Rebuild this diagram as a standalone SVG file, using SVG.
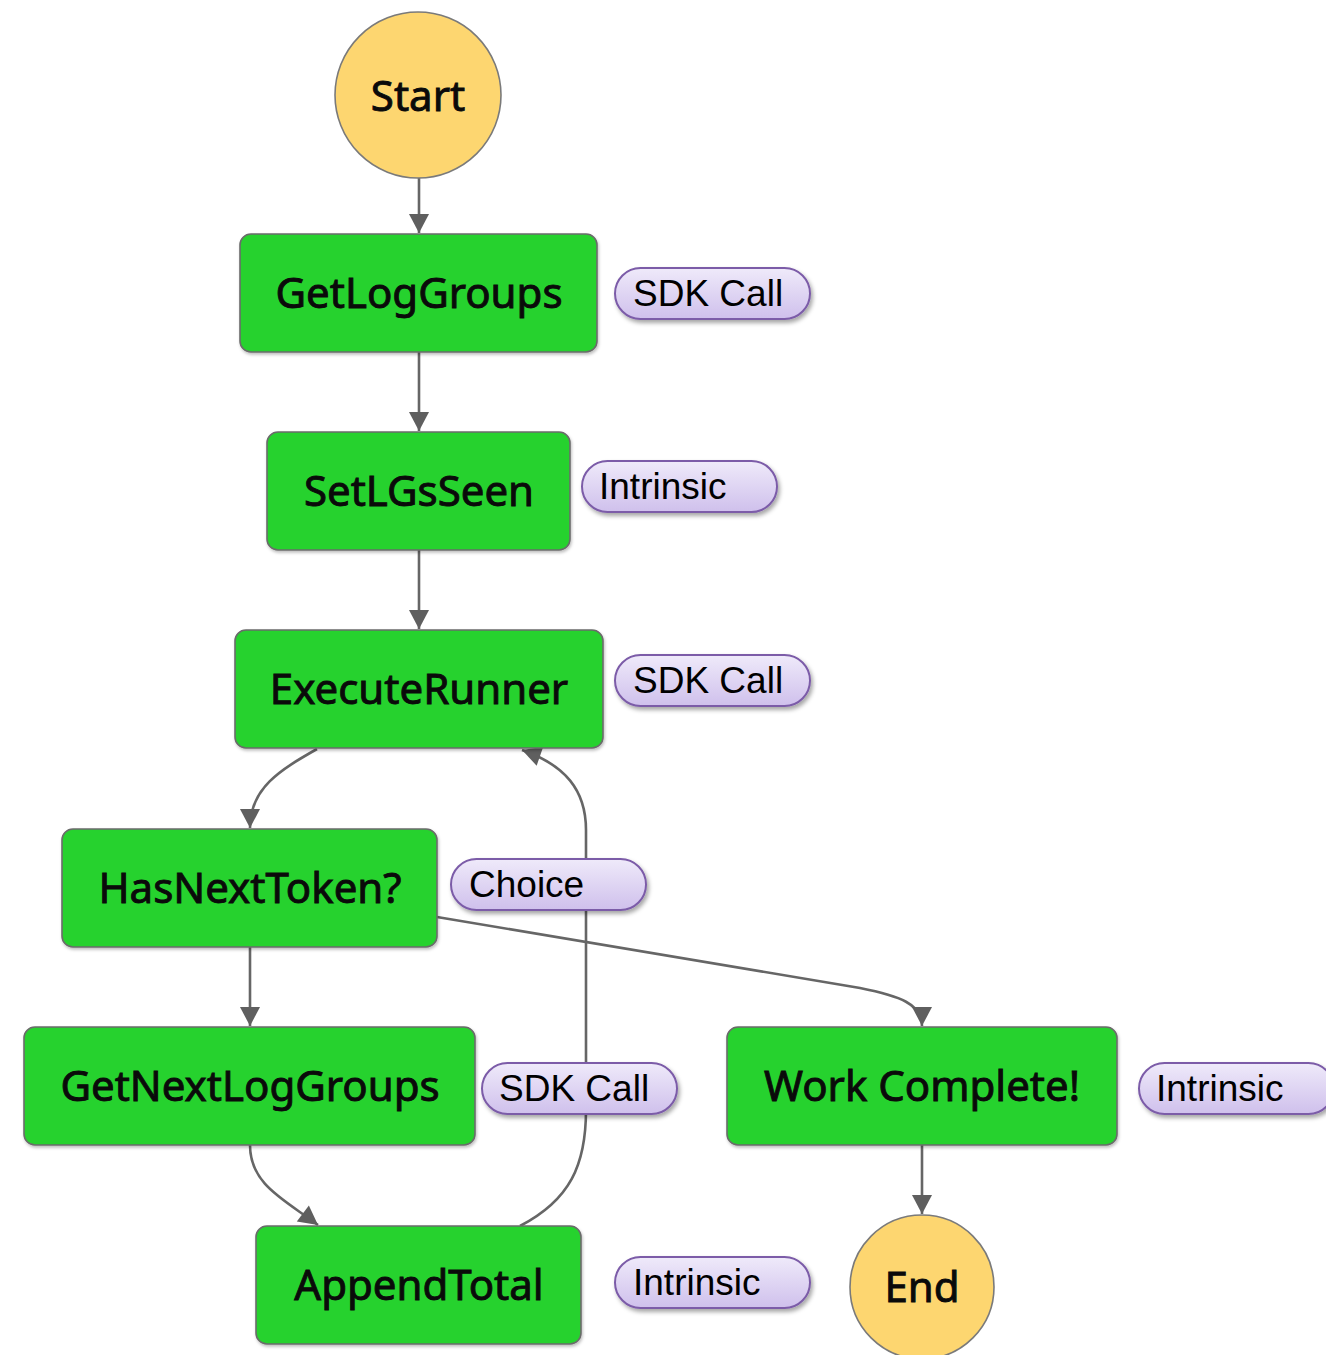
<svg xmlns="http://www.w3.org/2000/svg" width="1326" height="1355" viewBox="0 0 1326 1355">
  <style>
    .state { fill: #27d22f; stroke: #6b6b6b; stroke-width: 1.6; filter: url(#nodeShadow); }
    .term { fill: #fdd670; stroke: #7a7a7a; stroke-width: 1.6; }
    .label { font-family: "Noto Sans", "DejaVu Sans", sans-serif; font-size: 42px; fill: #0a0a0a; stroke: #0a0a0a; stroke-width: 0.9; text-anchor: middle; }
    .tag { fill: url(#tagFill); stroke: #7b5ba8; stroke-width: 2; filter: url(#tagShadow); }
    .tagText { font-family: "Liberation Sans", Arial, sans-serif; font-size: 37px; fill: #000; }
    .edge { fill: none; stroke: #666; stroke-width: 2.6; marker-end: url(#arrow); }
  </style>
  <defs>
    <linearGradient id="tagFill" x1="0" y1="0" x2="0" y2="1">
      <stop offset="0" stop-color="#efeafa"/>
      <stop offset="1" stop-color="#cfc0ec"/>
    </linearGradient>
    <filter id="tagShadow" x="-10%" y="-20%" width="125%" height="160%">
      <feDropShadow dx="2" dy="3" stdDeviation="2" flood-color="#000" flood-opacity="0.35"/>
    </filter>
    <filter id="nodeShadow" x="-5%" y="-10%" width="112%" height="125%">
      <feDropShadow dx="1" dy="2" stdDeviation="1.5" flood-color="#000" flood-opacity="0.25"/>
    </filter>
    <marker id="arrow" markerUnits="userSpaceOnUse" markerWidth="24" markerHeight="24" viewBox="0 0 24 24" refX="21" refY="12" orient="auto">
      <path d="M2,2 L21,12 L2,22 Z" fill="#5f5f5f"/>
    </marker>
  </defs>

  <!-- transitions -->
  <g id="connectors">
    <path class="edge" d="M419,178 L419,233"/>
    <path class="edge" d="M419,352 L419,431"/>
    <path class="edge" d="M419,550 L419,629"/>
    <path class="edge" d="M317,749 C280,770 250,788 250,828"/>
    <path class="edge" d="M250,947 L250,1026"/>
    <path class="edge" d="M437,917 L860,988 C900,996 922,1004 922,1026"/>
    <path class="edge" d="M250,1145 C250,1185 285,1200 318,1225"/>
    <path class="edge" d="M520,1226 C570,1200 586,1165 586,1110 L586,830 C586,790 565,765 522,750"/>
    <path class="edge" d="M922,1145 L922,1214"/>
  </g>

  <g id="start">
    <ellipse class="term" cx="418" cy="95" rx="83" ry="83"/>
    <text class="label" x="418" y="111">Start</text>
  </g>

  <g id="getLogGroups">
    <rect class="state" x="240" y="234" width="357" height="118" rx="11"/>
    <text class="label" x="419" y="308">GetLogGroups</text>
    <rect class="tag" x="615" y="268" width="195" height="51" rx="25.5"/>
    <text class="tagText" x="633" y="306">SDK Call</text>
  </g>

  <g id="setLGsSeen">
    <rect class="state" x="267" y="432" width="303" height="118" rx="11"/>
    <text class="label" x="419" y="506">SetLGsSeen</text>
    <rect class="tag" x="582" y="461" width="195" height="51" rx="25.5"/>
    <text class="tagText" x="599" y="499">Intrinsic</text>
  </g>

  <g id="executeRunner">
    <rect class="state" x="235" y="630" width="368" height="118" rx="11"/>
    <text class="label" x="419" y="704">ExecuteRunner</text>
    <rect class="tag" x="615" y="655" width="195" height="51" rx="25.5"/>
    <text class="tagText" x="633" y="693">SDK Call</text>
  </g>

  <g id="hasNextToken">
    <rect class="state" x="62" y="829" width="375" height="118" rx="11"/>
    <text class="label" x="250" y="903">HasNextToken?</text>
    <rect class="tag" x="451" y="859" width="195" height="51" rx="25.5"/>
    <text class="tagText" x="469" y="897">Choice</text>
  </g>

  <g id="getNextLogGroups">
    <rect class="state" x="24" y="1027" width="451" height="118" rx="11"/>
    <text class="label" x="250" y="1101">GetNextLogGroups</text>
    <rect class="tag" x="482" y="1063" width="195" height="51" rx="25.5"/>
    <text class="tagText" x="499" y="1101">SDK Call</text>
  </g>

  <g id="workComplete">
    <rect class="state" x="727" y="1027" width="390" height="118" rx="11"/>
    <text class="label" x="922" y="1101">Work Complete!</text>
    <rect class="tag" x="1139" y="1063" width="195" height="51" rx="25.5"/>
    <text class="tagText" x="1156" y="1101">Intrinsic</text>
  </g>

  <g id="appendTotal">
    <rect class="state" x="256" y="1226" width="325" height="118" rx="11"/>
    <text class="label" x="419" y="1300">AppendTotal</text>
    <rect class="tag" x="615" y="1257" width="195" height="51" rx="25.5"/>
    <text class="tagText" x="633" y="1295">Intrinsic</text>
  </g>

  <g id="end">
    <ellipse class="term" cx="922" cy="1287" rx="72" ry="72"/>
    <text class="label" x="922" y="1302">End</text>
  </g>
</svg>
